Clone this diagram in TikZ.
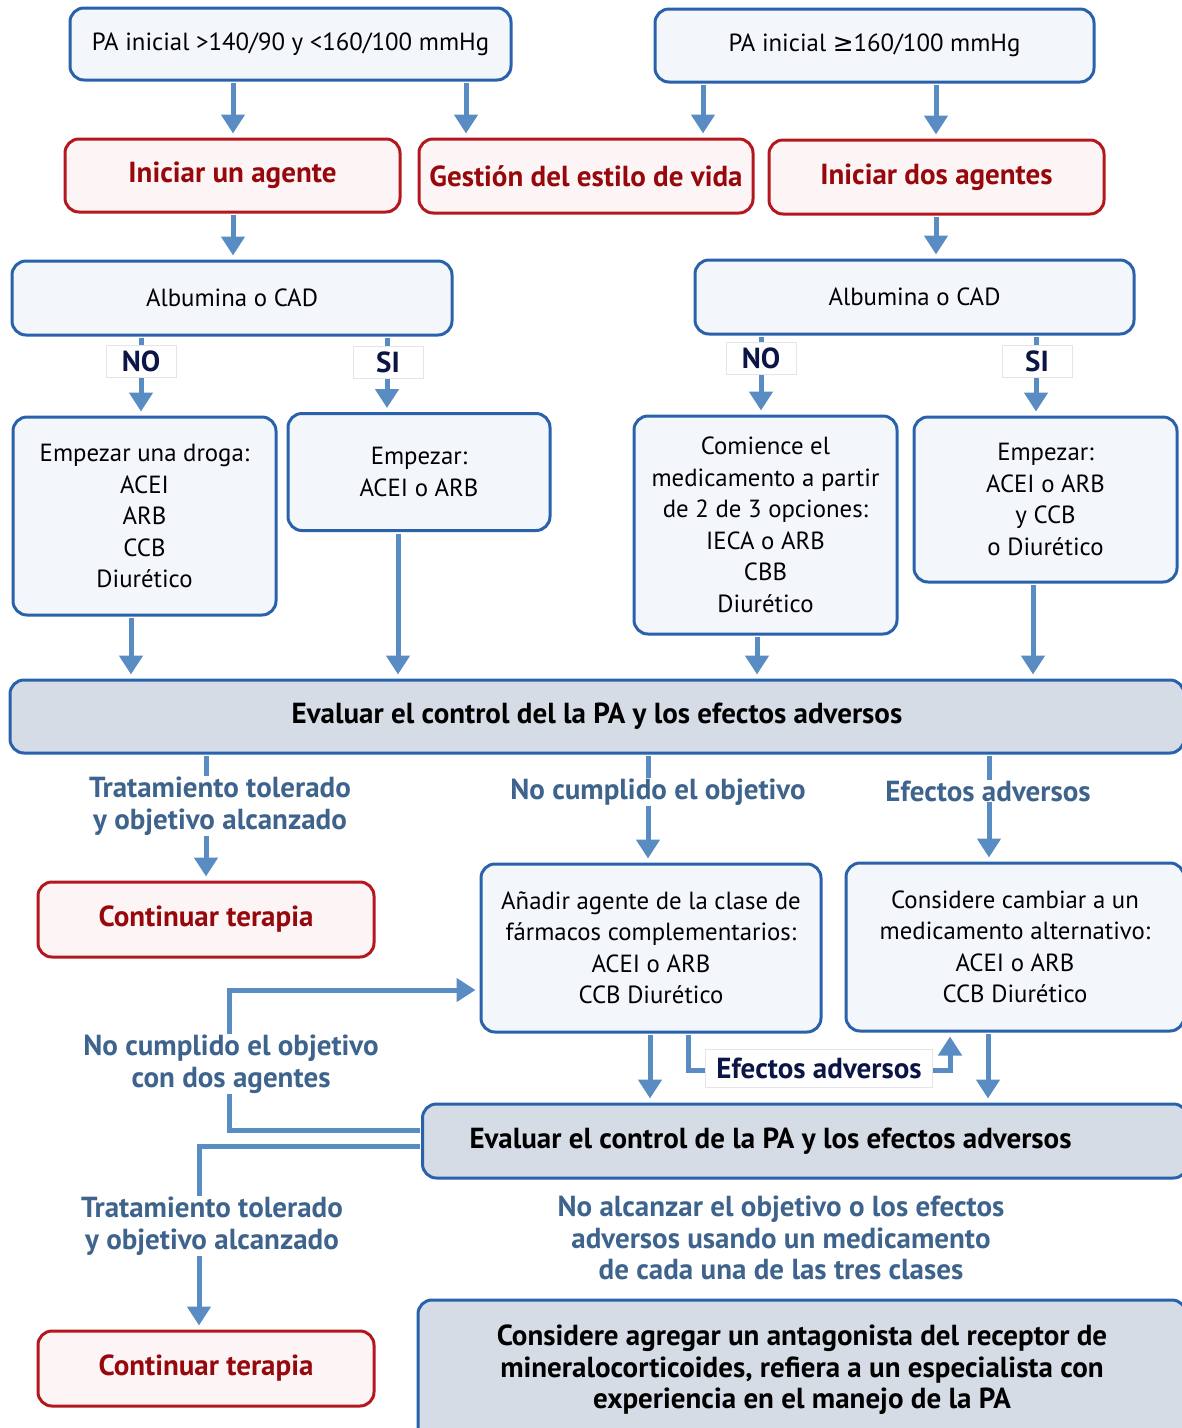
\documentclass[tikz,border=0pt]{standalone}
\usepackage{fontspec}
\setmainfont{PT Sans}
\newfontfamily\symfont{DejaVu Sans}
\usetikzlibrary{arrows.meta}
\definecolor{boxblue}{RGB}{41,98,170}
\definecolor{arrblue}{RGB}{88,140,194}
\definecolor{boxfill}{RGB}{243,246,251}
\definecolor{evfill}{RGB}{214,220,229}
\definecolor{boxred}{RGB}{178,24,30}
\definecolor{redfill}{RGB}{253,245,245}
\definecolor{txtred}{RGB}{150,8,12}
\definecolor{labblue}{RGB}{62,100,142}
\definecolor{navy}{RGB}{12,22,70}
\newcommand\boxfont{\fontsize{24.8}{31.5}\selectfont}
\newcommand\boxbold{\fontsize{29}{31.5}\selectfont\bfseries}

\begin{document}
\begin{tikzpicture}[x=1pt, y=-1pt,
  bbox/.style={draw=boxblue, line width=3pt, fill=boxfill, rounded corners=14pt, align=center, inner sep=0pt, font=\boxfont},
  rbox/.style={draw=boxred, line width=3pt, fill=redfill, rounded corners=14pt, inner sep=0pt, text=txtred, font=\boxbold},
  ebox/.style={draw=boxblue, line width=3pt, fill=evfill, rounded corners=14pt, inner sep=0pt, align=center, font=\boxbold},
  arr/.style={draw=arrblue, line width=5pt, -{Triangle[width=23pt,length=19pt]}, shorten >=4pt, shorten <=1.5pt},
  yn/.style={fill=white, draw=black!10, line width=0.8pt, text=navy, font=\boxbold, minimum width=70pt, minimum height=32pt, inner sep=0pt},
  cond/.style={fill=white, text=labblue, font=\boxbold, align=center, inner sep=1pt}
]
  \clip (0,0) rectangle (1182,1428);

  % initial blood pressure
  \node[bbox, minimum width=441pt, minimum height=72pt] (pa1) at (290.5,44) {PA inicial >140/90 y <160/100 mmHg};
  \node[bbox, minimum width=439pt, minimum height=73pt] (pa2) at (874.5,45.5) {PA inicial {\symfont ≥}160/100 mmHg};

  \node[rbox, minimum width=335pt, minimum height=73pt] (uno) at (232.5,175.5) {Iniciar un agente};
  \node[rbox, minimum width=334pt, minimum height=74pt] (estilo) at (586,176) {Gestión del estilo de vida};
  \node[rbox, minimum width=335pt, minimum height=74pt] (dos) at (936.5,177) {Iniciar dos agentes};

  \node[bbox, minimum width=440pt, minimum height=74pt] (alb1) at (232,298) {Albumina o CAD};
  \node[bbox, minimum width=439pt, minimum height=74pt] (alb2) at (914.5,297) {Albumina o CAD};

  % drug choices
  \node[bbox, minimum width=263pt, minimum height=198pt] (d1) at (144.5,516) {Empezar una droga:\\ACEI\\ARB\\CCB\\Diurético};
  \node[bbox, minimum width=262pt, minimum height=117pt] (d2) at (419,472) {Empezar:\\ACEI o ARB};
  \node[bbox, minimum width=263pt, minimum height=218pt] (d3) at (765.5,525) {Comience el\\medicamento a partir\\de 2 de 3 opciones:\\IECA o ARB\\CBB\\Diurético};
  \node[bbox, minimum width=263pt, minimum height=165pt] (d4) at (1045.5,499.5) {Empezar:\\ACEI o ARB\\y CCB\\o Diurético};

  \node[ebox, minimum width=1174pt, minimum height=73pt] (ev1) at (597,716.5) {Evaluar el control del la PA y los efectos adversos};

  \node[rbox, minimum width=336pt, minimum height=75pt] (cont1) at (206,919.5) {Continuar terapia};
  \node[bbox, minimum width=340pt, minimum height=168pt] (add) at (651,948) {Añadir agente de la clase de\\fármacos complementarios:\\ACEI o ARB\\CCB Diurético};
  \node[bbox, minimum width=338pt, minimum height=168pt] (alt) at (1015,947) {Considere cambiar a un\\medicamento alternativo:\\ACEI o ARB\\CCB Diurético};

  \node[ebox, anchor=west, minimum height=74pt, text width=671pt, inner xsep=47pt, align=flush left] (ev2) at (421,1141) {Evaluar el control de la PA y los efectos adversos};

  \node[rbox, minimum width=336pt, minimum height=75pt] (cont2) at (206,1368.5) {Continuar terapia};
  \node[ebox, minimum width=768pt, minimum height=140pt] (final) at (802,1370) {Considere agregar un antagonista del receptor de\\mineralocorticoides, refiera a un especialista con\\experiencia en el manejo de la PA};

  % straight arrows
  \foreach \a/\b/\x in {pa1/uno/233, pa1/estilo/466, pa2/estilo/703, pa2/dos/936, uno/alb1/233, dos/alb2/936,
      alb1/d1/141, alb1/d2/387, alb2/d3/761, alb2/d4/1036, d1/ev1/131, d2/ev1/398, d3/ev1/757, d4/ev1/1033,
      ev1/cont1/206, ev1/add/648, ev1/alt/989, add/ev2/650, alt/ev2/988}
    {\coordinate (t) at (\x,0); \draw[arr] (\a.south -| t) -- (\b.north -| t);}

  % loops around the second evaluation
  \coordinate (l1) at (229,1130);
  \coordinate (l2) at (229,990);
  \coordinate (l3) at (199,1146);
  \coordinate (m1) at (688,1070);
  \coordinate (m2) at (950,1070);
  \draw[arr] (ev2.west |- l1) -- (l1) -- (l2) -- (add.west |- l2);
  \draw[arr] (ev2.west |- l3) -- (l3) -- (cont2.north -| l3);
  \draw[arr] (add.south -| m1) -- (m1) -- (m2) -- (alt.south -| m2);

  % labels
  \node[yn] (no1) at (141,361) {NO};
  \node[yn] (si1) at (388,362) {SI};
  \node[yn] (no2) at (761,358) {NO};
  \node[yn] (si2) at (1037,361) {SI};
  \node[cond] (c1) at (220,806) {Tratamiento tolerado\\y objetivo alcanzado};
  \node[cond] (c2) at (658,792) {No cumplido el objetivo};
  \node[cond] (c3) at (988,791) {Efectos adversos};
  \node[cond] (c4) at (231,1064) {No cumplido el objetivo\\con dos agentes};
  \node[cond] (c5) at (212,1226) {Tratamiento tolerado\\y objetivo alcanzado};
  \node[yn, minimum width=227pt, minimum height=38pt] (c6) at (819,1068) {Efectos adversos};
  \node[cond, fill=none] (c7) at (781,1238) {No alcanzar el objetivo o los efectos\\adversos usando un medicamento\\de cada una de las tres clases};
\end{tikzpicture}
\end{document}
